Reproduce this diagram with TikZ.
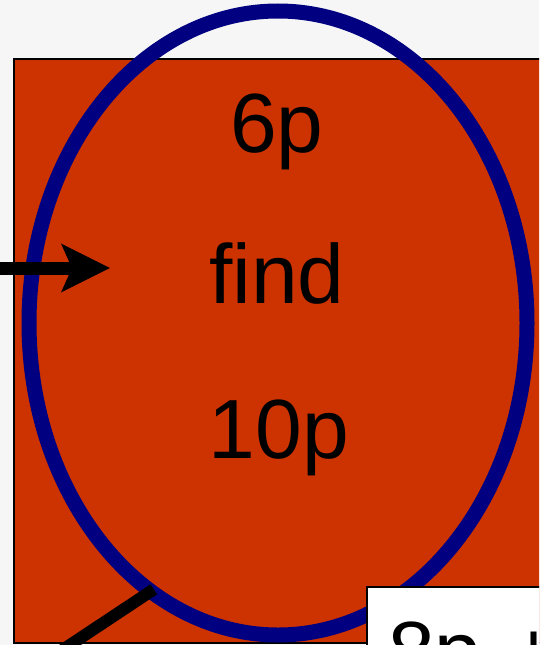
\documentclass[tikz,border=0pt]{standalone}
\usepackage{fontspec}
\setmainfont{Liberation Sans}
\usetikzlibrary{arrows.meta,shapes.geometric,calc}
\definecolor{bggray}{HTML}{F6F6F6}
\definecolor{brick}{HTML}{CC3300}
\definecolor{navyring}{HTML}{000080}

\begin{document}
\begin{tikzpicture}[x=1pt, y=-1pt, font=\fontsize{84}{100}\selectfont,
  redsquare/.style={draw=black, line width=2pt, fill=brick, minimum size=584pt, inner sep=0pt},
  ring/.style={ellipse, draw=navyring, line width=15pt, minimum width=498pt, minimum height=624pt, inner sep=0pt},
  label/.style={anchor=base, inner sep=0pt},
  notebox/.style={draw=black, line width=2pt, fill=white, anchor=base west, inner xsep=21pt, inner ysep=0pt, text height=93pt, text depth=80pt, text width=280pt, align=left}]
\useasboundingbox (0,0) rectangle (539,645);
\clip (0,0) rectangle (539,645);
\fill[bggray] (0,0) rectangle (539,645);
% square and ring
\node[redsquare] (square) at (306,351) {};
\node[ring] (oval) at (278,323) {};
% texts
\node[label] (six) at (277,152) {6p};
\node[label] (find) at (277,303) {find};
\node[label] (ten) at (279,458) {10p};
% incoming arrow
\coordinate (src) at (-20,268);
\coordinate (tip) at (110,268);
\draw[-{Stealth[length=48pt, width=47pt, inset=10pt]}, line width=13pt] (src) -- (tip);
% outgoing line
\coordinate (out) at (-16,702);
\draw[line width=12pt] ($(oval.center)!0.964!(oval.245)$) -- (out);
% box in the corner
\node[notebox] (note) at (366,680) {8p +};
\end{tikzpicture}
\end{document}
